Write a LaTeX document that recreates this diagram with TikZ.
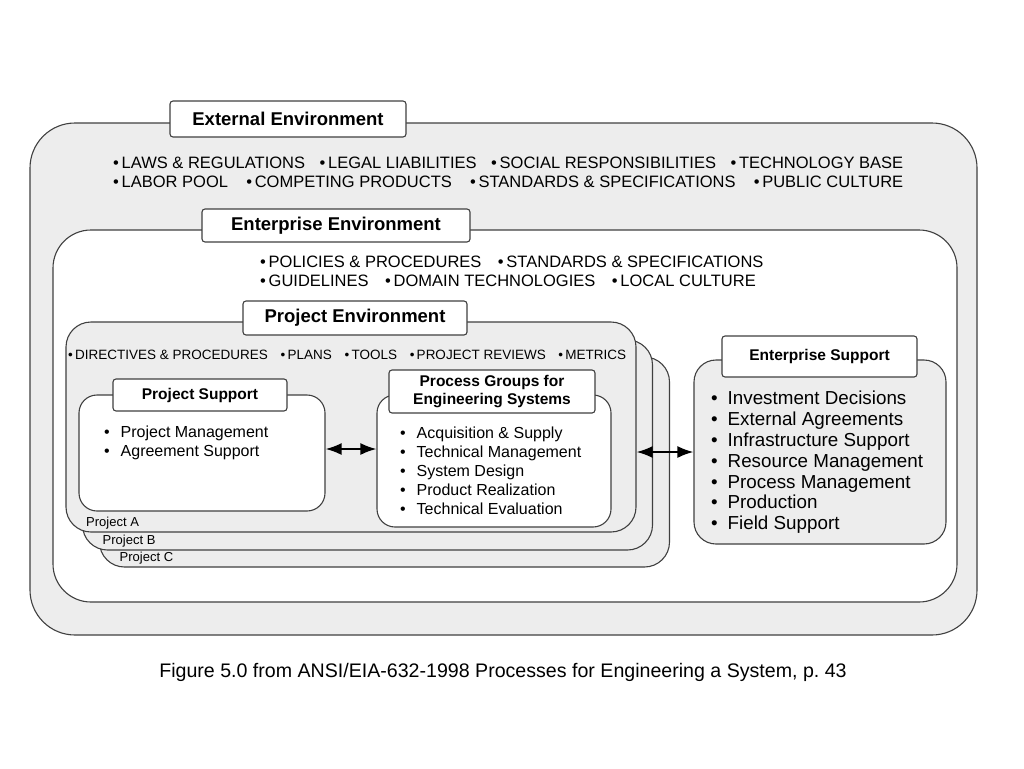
\documentclass[tikz,border=0pt]{standalone}
\usepackage{fontspec}
\setmainfont{Liberation Sans}
\usetikzlibrary{arrows.meta}
\definecolor{envgray}{gray}{0.93}
\definecolor{rim}{gray}{0.25}
\newcommand{\fs}[2]{\fontsize{#1}{#2}\selectfont}
\newcommand{\itm}[1]{\makebox[16.5pt][l]{\textbullet}#1}

\begin{document}
\begin{tikzpicture}[x=1pt,y=-1pt,
  envbox/.style={draw=rim,line width=1.1pt,inner sep=0pt,rounded corners=#1},
  envbox/.default=20pt,
  tag/.style={draw=rim,fill=white,line width=1.1pt,rounded corners=3pt,inner sep=0pt,align=center,font=\fs{18.5}{21}\bfseries},
  lst/.style={anchor=west,inner sep=0pt,align=left},
  link/.style={line width=2pt,{Latex[length=16pt,width=12pt]}-{Latex[length=16pt,width=12pt]}}]
\useasboundingbox (0,0) rectangle (1024,768);

% external environment
\node[envbox=45pt,fill=envgray,minimum width=947pt,minimum height=512pt] (ext) at (503.5,379) {};
\node[tag,minimum width=236pt,minimum height=36pt] (extTag) at (288,119) {External Environment};
\node[lst,font=\fs{16.5}{19}] (extList) at (113,172.5) {\makebox[790pt][l]{\textbullet\,LAWS \& REGULATIONS\hfill\textbullet\,LEGAL LIABILITIES\hfill\textbullet\,SOCIAL RESPONSIBILITIES\hfill\textbullet\,TECHNOLOGY BASE}\\
  \makebox[790pt][l]{\textbullet\,LABOR POOL\hfill\textbullet\,COMPETING PRODUCTS\hfill\textbullet\,STANDARDS \& SPECIFICATIONS\hfill\textbullet\,PUBLIC CULTURE}};

% enterprise environment
\node[envbox=38pt,fill=white,minimum width=904pt,minimum height=372pt] (ent) at (505,416) {};
\node[tag,minimum width=268pt,minimum height=33pt] (entTag) at (336,225.5) {Enterprise Environment};
\node[lst,font=\fs{16.5}{19}] (entList) at (260,271.5) {\textbullet\,POLICIES \& PROCEDURES\quad\textbullet\,STANDARDS \& SPECIFICATIONS\\
  \textbullet\,GUIDELINES\quad\textbullet\,DOMAIN TECHNOLOGIES\quad\textbullet\,LOCAL CULTURE};

% project stack
\foreach \p/\cx/\cy in {C/384.5/462,B/367.5/445,A/351/427}{
  \node[envbox=25pt,fill=envgray,minimum width=570pt,minimum height=210pt] (proj\p) at (\cx,\cy) {};
  \node[anchor=west,inner sep=0pt,font=\fs{13}{15}] (proj\p Lbl) at (\cx-265,\cy+96) {Project \p};
}
\node[tag,minimum width=224pt,minimum height=34pt] (prjTag) at (355,318) {Project Environment};
\node[lst,font=\fs{13.5}{15}] (prjList) at (68,355) {\makebox[558pt][l]{\textbullet\,DIRECTIVES \& PROCEDURES\hfill\textbullet\,PLANS\hfill\textbullet\,TOOLS\hfill\textbullet\,PROJECT REVIEWS\hfill\textbullet\,METRICS}};

% project support
\node[envbox=18pt,fill=white,minimum width=246pt,minimum height=116pt] (psup) at (202,453) {};
\node[tag,font=\fs{15.5}{18}\bfseries,minimum width=174pt,minimum height=32pt] (psupTag) at (200,395) {Project Support};
\node[lst,font=\fs{16}{18.5}] (psupList) at (104,443) {\itm{Project Management}\\\itm{Agreement Support}};

% process groups
\node[envbox=18pt,fill=white,minimum width=234pt,minimum height=132pt] (pgrp) at (494,461) {};
\node[tag,font=\fs{15.5}{18}\bfseries,minimum width=206pt,minimum height=43pt] (pgrpTag) at (492,391.5) {Process Groups for\\Engineering Systems};
\node[lst,font=\fs{16}{19}] (pgrpList) at (400,471) {\itm{Acquisition \& Supply}\\\itm{Technical Management}\\\itm{System Design}\\\itm{Product Realization}\\\itm{Technical Evaluation}};

% enterprise support
\node[envbox=22pt,fill=envgray,minimum width=252pt,minimum height=184pt] (esup) at (820,452) {};
\node[tag,font=\fs{15.5}{18}\bfseries,minimum width=195pt,minimum height=41pt] (esupTag) at (819.5,356.5) {Enterprise Support};
\node[lst,font=\fs{18.8}{20.8}] (esupList) at (711,462.5) {\itm{Investment Decisions}\\\itm{External Agreements}\\\itm{Infrastructure Support}\\\itm{Resource Management}\\\itm{Process Management}\\\itm{Production}\\\itm{Field Support}};

\draw[link] ([yshift=4pt]psup.east) -- ([yshift=4pt]psup.east -| pgrp.west);
\draw[link] (projA.east |- esup.west) -- (esup.west);

\node[font=\fs{19.6}{22}] (caption) at (503,672) {Figure 5.0 from ANSI/EIA-632-1998 Processes for Engineering a System, p.\ 43};
\end{tikzpicture}
\end{document}
